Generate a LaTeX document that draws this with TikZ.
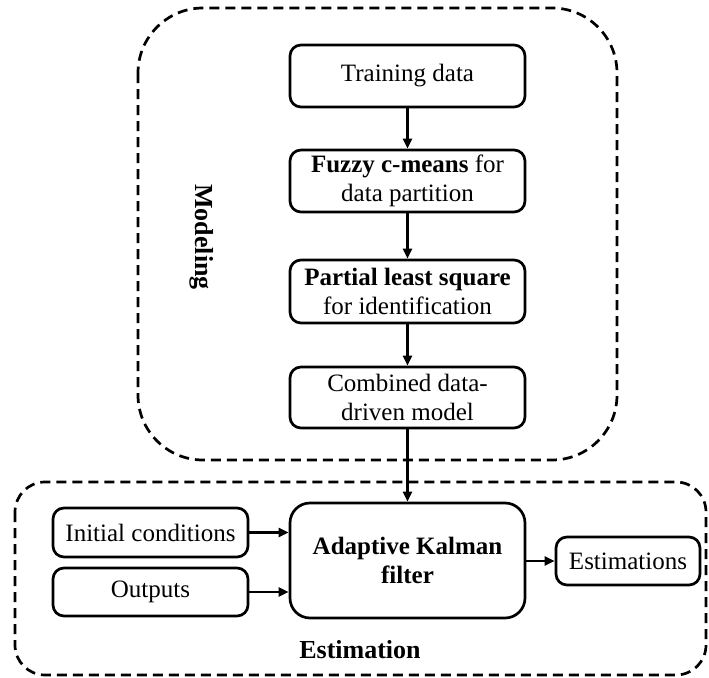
\documentclass[tikz,border=0pt]{standalone}
\usepackage{fontspec}
\setmainfont{Liberation Serif}
\usetikzlibrary{arrows.meta}
\begin{document}
\begin{tikzpicture}[x=1pt,y=-1pt,
  txt/.style={font=\fontsize{25}{29}\selectfont},
  block/.style={draw, line width=2.7pt, rounded corners=11pt, align=center,
    txt, inner sep=2pt},
  region/.style={draw, line width=2.7pt, dash pattern=on 10pt off 6pt},
  arr/.style={line width=2.6pt, -{Triangle[length=10pt,width=9pt]}},
  lbl/.style={font=\bfseries\fontsize{26}{30}\selectfont}]
\useasboundingbox (0,0) rectangle (709,677);

% dashed regions
\draw[region, rounded corners=65pt] (138,8) rectangle (617,460);
\draw[region, rounded corners=30pt] (15,482) rectangle (706,675);

% modeling chain
\node[block, minimum width=235pt, minimum height=62pt] (train) at (407.5,76) {Training data};
\node[block, minimum width=235pt, minimum height=62pt] (fcm) at (407.5,181) {\textbf{Fuzzy c-means} for\\data partition};
\node[block, minimum width=235pt, minimum height=63pt] (pls) at (407.5,291.5) {\textbf{Partial least square}\\for identification};
\node[block, minimum width=235pt, minimum height=61pt] (comb) at (407.5,397.5) {Combined data-\\driven model};

% estimation stage
\node[block, rounded corners=20pt, minimum width=235pt, minimum height=115pt] (akf) at (407.5,560.5) {\textbf{Adaptive Kalman}\\\textbf{filter}};
\node[block, minimum width=195pt, minimum height=49pt] (init) at (150.5,532.5) {Initial conditions};
\node[block, minimum width=195pt, minimum height=48pt] (outp) at (150.5,592) {Outputs};
\node[block, minimum width=144pt, minimum height=48pt] (est) at (628,561) {Estimations};

% region labels
\node[lbl, rotate=-90] (modlbl) at (202,237) {Modeling};
\node[lbl] (estlbl) at (360,650) {Estimation};

% connectors
\draw[arr] (train) -- (fcm);
\draw[arr] (fcm) -- (pls);
\draw[arr] (pls) -- (comb);
\draw[arr] (comb) -- (akf);
\draw[arr] (init.east) -- (init.east -| akf.west);
\draw[arr] (outp.east) -- (outp.east -| akf.west);
\draw[arr] (est.west -| akf.east) -- (est.west);
\end{tikzpicture}
\end{document}
